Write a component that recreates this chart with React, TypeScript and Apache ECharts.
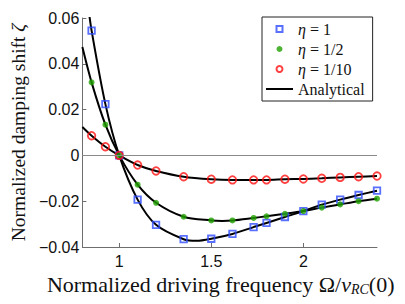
import React, { useEffect, useRef } from "react";
import * as echarts from "echarts";

// Simulation sample positions (normalized driving frequency)
const xs = [0.85, 0.925, 1.0, 1.1, 1.2, 1.35, 1.5, 1.615, 1.73, 1.8, 1.9, 2.0, 2.1, 2.2, 2.3, 2.4];
// Simulated damping shift for each eta
const eta1 = [0.0545, 0.0224, 0, -0.0193, -0.0303, -0.0366, -0.0364, -0.0343, -0.0313, -0.0295, -0.0269, -0.0243, -0.0215, -0.0193, -0.0173, -0.0154];
const eta2 = [0.0319, 0.0134, 0, -0.0128, -0.0207, -0.0268, -0.0284, -0.0284, -0.0273, -0.0266, -0.0255, -0.0243, -0.0228, -0.0214, -0.02, -0.0189];
const eta10 = [0.0086, 0.0038, 0, -0.0042, -0.0068, -0.0093, -0.0104, -0.0107, -0.0107, -0.0107, -0.0104, -0.0103, -0.01, -0.0096, -0.0093, -0.009];

// Analytical curves
const anaX1 = [0.83, 0.85, 0.925, 1.0, 1.1, 1.2, 1.35, 1.42, 1.5, 1.615, 1.73, 1.8, 1.9, 2.0, 2.1, 2.2, 2.3, 2.4];
const anaY1 = [0.066, 0.0545, 0.0224, 0, -0.0193, -0.0303, -0.0366, -0.0373, -0.0364, -0.0343, -0.0313, -0.0295, -0.0269, -0.0243, -0.0215, -0.0193, -0.0173, -0.0154];
const anaX2 = [0.8, 0.85, 0.925, 1.0, 1.1, 1.2, 1.35, 1.5, 1.56, 1.615, 1.73, 1.8, 1.9, 2.0, 2.1, 2.2, 2.3, 2.4];
const anaY2 = [0.0473, 0.0319, 0.0134, 0, -0.0128, -0.0207, -0.0268, -0.0284, -0.0286, -0.0284, -0.0273, -0.0266, -0.0255, -0.0243, -0.0228, -0.0214, -0.02, -0.0189];
const anaX10 = [0.8, 0.85, 0.925, 1.0, 1.1, 1.2, 1.35, 1.5, 1.615, 1.73, 1.8, 1.9, 2.0, 2.1, 2.2, 2.3, 2.4];
const anaY10 = [0.0124, 0.0086, 0.0038, 0, -0.0042, -0.0068, -0.0093, -0.0104, -0.0107, -0.0107, -0.0107, -0.0104, -0.0103, -0.01, -0.0096, -0.0093, -0.009];

const xTicks = [1, 1.5, 2];
const legendNames = ["η = 1", "η = 1/2", "η = 1/10", "Analytical"];

const pair = (x: number[], y: number[]) => x.map((v, i) => [v, y[i]]);

const SERIF = "'Liberation Serif', 'Times New Roman', serif";
const SANS = "'Liberation Sans', Arial, Helvetica, sans-serif";
const SQUARE = "path://M0,0L10,0L10,10L0,10Z";
const BAR = "path://M0,0L27,0L27,2L0,2Z";

export default function App() {
  const ref = useRef<HTMLDivElement>(null);
  useEffect(() => {
    if (!ref.current) return;
    const chart = echarts.init(ref.current, undefined, { renderer: "svg" });
    const blue = "#2f4cff";
    const green = "#1fa000";
    const red = "#ff1010";
    const lineStyle = { color: "#000", width: 2 };
    chart.setOption({
      animation: false,
      backgroundColor: "#fff",
      grid: { left: 62, top: 18, right: 28, bottom: 57, containLabel: false },
      xAxis: {
        type: "value",
        min: 0.8,
        max: 2.4,
        name: "{n|Normalized driving frequency Ω/}{i|ν}{s|RC}{n|(0)}",
        nameLocation: "middle",
        nameGap: 14,
        nameTextStyle: {
          padding: [0, 18, 0, 0],
          rich: {
            n: { fontFamily: SERIF, fontSize: 22, lineHeight: 24, color: "#111" },
            i: { fontFamily: SERIF, fontSize: 22, lineHeight: 24, fontStyle: "italic", color: "#111" },
            s: { fontFamily: SERIF, fontSize: 14, lineHeight: 24, fontStyle: "italic", color: "#111", verticalAlign: "bottom" },
          },
        },
        axisLine: { show: true, onZero: false, lineStyle: { color: "#6e6e6e", width: 1 } },
        axisTick: { show: true, inside: true, length: 4, customValues: xTicks, lineStyle: { color: "#6e6e6e" } },
        axisLabel: {
          customValues: xTicks,
          margin: 6,
          fontFamily: SANS,
          fontSize: 16,
          color: "#111",
          formatter: (v: number) => String(v),
        },
        splitLine: { show: false },
      },
      yAxis: {
        type: "value",
        min: -0.04,
        max: 0.06,
        interval: 0.02,
        name: "{n|Normalized damping shift }{i|ζ}",
        nameLocation: "middle",
        nameGap: 51,
        nameTextStyle: {
          rich: {
            n: { fontFamily: SERIF, fontSize: 19.5, color: "#111" },
            i: { fontFamily: SERIF, fontSize: 19.5, fontStyle: "italic", color: "#111" },
          },
        },
        axisLine: { show: true, onZero: false, lineStyle: { color: "#6e6e6e", width: 1 } },
        axisTick: { show: true, inside: true, length: 4, lineStyle: { color: "#6e6e6e" } },
        axisLabel: {
          margin: 3,
          fontFamily: SANS,
          fontSize: 16,
          color: "#111",
          formatter: (v: number) => {
            if (Math.abs(v) < 1e-9) return "0";
            return (v < 0 ? "−" : "") + Math.abs(v).toFixed(2);
          },
        },
        splitLine: { show: false },
      },
      legend: {
        orient: "vertical",
        left: 262,
        top: 17,
        data: [
          { name: legendNames[0], icon: SQUARE },
          { name: legendNames[1] },
          { name: legendNames[2] },
          { name: legendNames[3], icon: BAR },
        ],
        itemWidth: 27,
        itemHeight: 6,
        itemGap: 2,
        padding: [3, 8, 3, 4],
        borderColor: "#222",
        borderWidth: 1,
        backgroundColor: "#fff",
        formatter: (name: string) => name.replace("η", "{i|η}"),
        textStyle: {
          fontFamily: SERIF,
          fontSize: 16,
          color: "#111",
          lineHeight: 18,
          rich: {
            i: { fontFamily: SERIF, fontSize: 16, fontStyle: "italic", color: "#111", lineHeight: 18 },
          },
        },
      },
      series: [
        {
          name: "Analytical",
          type: "line",
          data: pair(anaX1, anaY1),
          symbol: "none",
          smooth: 0.3,
          lineStyle,
          itemStyle: { color: "#000" },
          z: 2,
          markLine: {
            silent: true,
            symbol: "none",
            label: { show: false },
            lineStyle: { color: "#8a8a8a", width: 1, type: "solid" },
            data: [{ yAxis: 0 }],
          },
        },
        {
          name: "Analytical",
          type: "line",
          data: pair(anaX2, anaY2),
          symbol: "none",
          smooth: 0.3,
          lineStyle,
          itemStyle: { color: "#000" },
          z: 2,
        },
        {
          name: "Analytical",
          type: "line",
          data: pair(anaX10, anaY10),
          symbol: "none",
          smooth: 0.3,
          lineStyle,
          itemStyle: { color: "#000" },
          z: 2,
        },
        {
          name: "η = 1",
          type: "scatter",
          data: pair(xs, eta1),
          symbol: SQUARE,
          symbolSize: 6.5,
          itemStyle: { color: "rgba(255,255,255,0)", borderColor: blue, borderWidth: 1.8 },
          z: 3,
        },
        {
          name: "η = 1/2",
          type: "scatter",
          data: pair(xs, eta2),
          symbol: "circle",
          symbolSize: 6,
          itemStyle: { color: green },
          z: 3,
        },
        {
          name: "η = 1/10",
          type: "scatter",
          data: pair(xs, eta10),
          symbol: "circle",
          symbolSize: 7.5,
          itemStyle: { color: "rgba(255,255,255,0)", borderColor: red, borderWidth: 1.8 },
          z: 3,
        },
      ],
    });
    return () => chart.dispose();
  }, []);
  return (
    <div
      ref={ref}
      style={{ position: "absolute", left: 0, top: 0, width: 405, height: 304, background: "#fff" }}
    />
  );
}
